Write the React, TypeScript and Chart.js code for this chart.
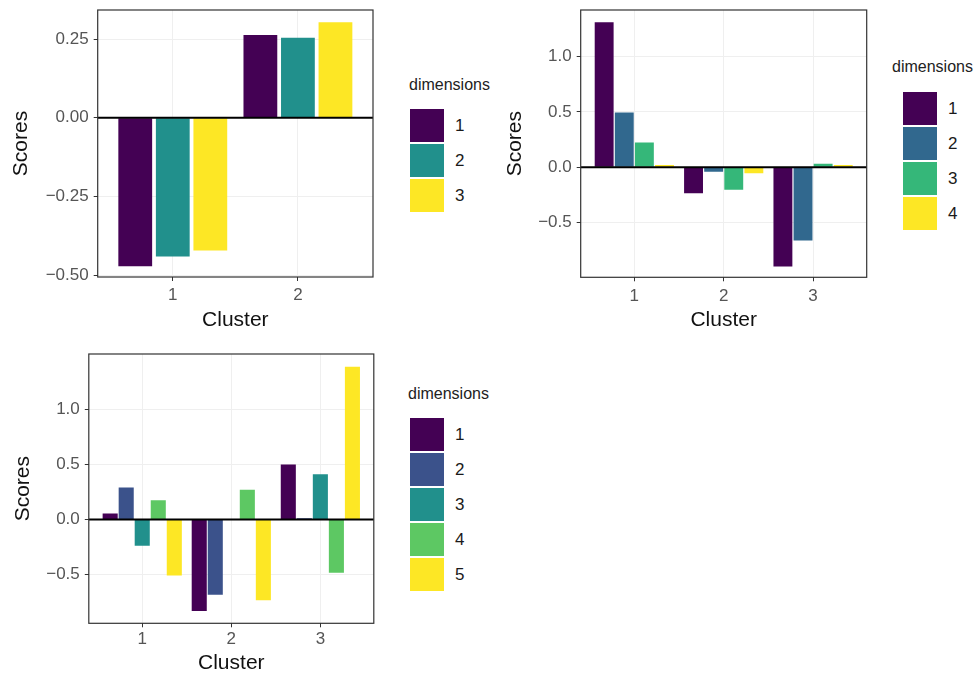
import React, { useEffect, useRef } from "react";
import { Chart, registerables } from "chart.js";

Chart.register(...registerables);

// ---------- DATA ----------
const clustersA = ["1", "2"];
const dimsA = ["1", "2", "3"];
const a_dim1 = [-0.471, 0.263];
const a_dim2 = [-0.44, 0.254];
const a_dim3 = [-0.421, 0.303];
const ticksA = [-0.5, -0.25, 0, 0.25];

const clustersB = ["1", "2", "3"];
const dimsB = ["1", "2", "3", "4"];
const b_dim1 = [1.31, -0.235, -0.898];
const b_dim2 = [0.493, -0.042, -0.663];
const b_dim3 = [0.222, -0.205, 0.03];
const b_dim4 = [0.02, -0.055, 0.02];
const ticksB = [-0.5, 0, 0.5, 1.0];

const clustersC = ["1", "2", "3"];
const dimsC = ["1", "2", "3", "4", "5"];
const c_dim1 = [0.055, -0.834, 0.5];
const c_dim2 = [0.29, -0.685, 0.01];
const c_dim3 = [-0.24, 0.005, 0.41];
const c_dim4 = [0.175, 0.27, -0.485];
const c_dim5 = [-0.51, -0.735, 1.39];
const ticksC = [-0.5, 0, 0.5, 1.0];

const viridis3 = ["#440154", "#21908C", "#FDE725"];
const viridis4 = ["#440154", "#31688E", "#35B779", "#FDE725"];
const viridis5 = ["#440154", "#3B528B", "#21908C", "#5DC863", "#FDE725"];

const FONT = "'Liberation Sans', Arial, Helvetica, sans-serif";

const fmt2 = (v: number) => (v < 0 ? "\u2212" : "") + Math.abs(v).toFixed(2);
const fmt1 = (v: number) => (v < 0 ? "\u2212" : "") + Math.abs(v).toFixed(1);

const panelPlugin = {
  id: "panelBox",
  afterDatasetsDraw(chart: any) {
    const { ctx, chartArea: a, scales } = chart;
    const y0 = scales.y.getPixelForValue(0);
    ctx.save();
    ctx.strokeStyle = "#000";
    ctx.lineWidth = 2;
    ctx.beginPath();
    ctx.moveTo(a.left, y0);
    ctx.lineTo(a.right, y0);
    ctx.stroke();
    ctx.strokeStyle = "#333";
    ctx.lineWidth = 1.2;
    ctx.strokeRect(a.left, a.top, a.right - a.left, a.bottom - a.top);
    ctx.restore();
  },
};

type Spec = {
  labels: string[];
  series: number[][];
  dims: string[];
  colors: string[];
  yMin: number;
  yMax: number;
  yTicks: number[];
  fmt: (v: number) => string;
  barPct: number;
  areaL: number;
  areaT: number;
  areaR: number;
  areaB: number;
  titleX: number;
  clusterY: number;
  tickY: number;
  canvasTop: number;
  canvasH: number;
};

function Panel({ s }: { s: Spec }) {
  const ref = useRef<HTMLCanvasElement | null>(null);
  const canvasLeft = s.titleX - 20;
  const canvasW = Math.round(s.areaR - canvasLeft + 6);
  const padRight = canvasLeft + canvasW - s.areaR;
  useEffect(() => {
    const chart = new Chart(ref.current as HTMLCanvasElement, {
      type: "bar",
      data: {
        labels: s.labels,
        datasets: s.series.map((d, i) => ({
          label: s.dims[i],
          data: d,
          backgroundColor: s.colors[i],
          borderWidth: 0,
          barPercentage: s.barPct,
          categoryPercentage: 0.9,
        })),
      },
      options: {
        responsive: false,
        animation: false,
        layout: {
          padding: { left: 0, top: s.areaT - s.canvasTop, right: padRight, bottom: 0 },
        },
        plugins: { legend: { display: false }, tooltip: { enabled: false } },
        scales: {
          x: {
            type: "category",
            offset: true,
            afterBuildTicks: (sc: any) => {
              sc._startValue = -0.6;
              sc._valueRange = s.labels.length - 1 + 1.2;
            },
            afterFit: (sc: any) => {
              sc.height = s.canvasTop + s.canvasH - s.areaB;
              sc.paddingLeft = 0;
              sc.paddingRight = 0;
            },
            grid: {
              offset: false,
              color: "#EFEFEF",
              lineWidth: 1,
              tickColor: "#333",
              tickLength: 4,
              drawTicks: true,
            },
            border: { display: false },
            ticks: {
              color: "#555",
              font: { family: FONT, size: 17 },
              padding: s.tickY - s.areaB - 4 - 10.2,
              maxRotation: 0,
            },
            title: {
              display: true,
              text: "Cluster",
              color: "#111",
              font: { family: FONT, size: 21 },
              padding: { top: 0, bottom: Math.max(0, s.canvasTop + s.canvasH - s.clusterY - 12.6) },
            },
          },
          y: {
            type: "linear",
            min: s.yMin,
            max: s.yMax,
            afterBuildTicks: (sc: any) => {
              sc.ticks = s.yTicks.map((v) => ({ value: v }));
            },
            afterFit: (sc: any) => {
              sc.width = s.areaL - canvasLeft;
              sc.paddingTop = 0;
              sc.paddingBottom = 0;
            },
            grid: {
              color: "#EFEFEF",
              lineWidth: 1,
              tickColor: "#333",
              tickLength: 4,
            },
            border: { display: false },
            ticks: {
              color: "#555",
              font: { family: FONT, size: 17 },
              padding: 5,
              callback: (v: any) => s.fmt(Number(v)),
            },
            title: {
              display: true,
              text: "Scores",
              color: "#111",
              font: { family: FONT, size: 21 },
              padding: { top: 7.4, bottom: 0 },
            },
          },
        },
      },
      plugins: [panelPlugin],
    } as any);
    return () => chart.destroy();
  }, []);
  return (
    <canvas
      ref={ref}
      width={canvasW}
      height={s.canvasH}
      style={{ position: "absolute", left: canvasLeft, top: s.canvasTop, width: canvasW, height: s.canvasH }}
    />
  );
}

function Legend({ x, titleY, keyX, keyY, labelX, dims, colors }: any) {
  return (
    <>
      <div
        style={{
          position: "absolute",
          left: x,
          top: titleY - 10,
          height: 20,
          lineHeight: "20px",
          fontFamily: FONT,
          fontSize: 16,
          color: "#222",
          whiteSpace: "nowrap",
        }}
      >
        dimensions
      </div>
      {dims.map((d: string, i: number) => (
        <React.Fragment key={d}>
          <div
            style={{
              position: "absolute",
              left: keyX,
              top: keyY + i * 35,
              width: 34,
              height: 33,
              background: colors[i],
            }}
          />
          <div
            style={{
              position: "absolute",
              left: labelX,
              top: keyY + i * 35 + 16.5 - 11,
              height: 22,
              lineHeight: "22px",
              fontFamily: FONT,
              fontSize: 17,
              color: "#1a1a1a",
            }}
          >
            {d}
          </div>
        </React.Fragment>
      ))}
    </>
  );
}

const specA: Spec = {
  labels: clustersA,
  series: [a_dim1, a_dim2, a_dim3],
  dims: dimsA,
  colors: viridis3,
  yMin: -0.505,
  yMax: 0.342,
  yTicks: ticksA,
  fmt: fmt2,
  barPct: 0.9,
  areaL: 97.7,
  areaT: 10,
  areaR: 373,
  areaB: 277,
  titleX: 21,
  clusterY: 320,
  tickY: 295.5,
  canvasTop: 0,
  canvasH: 340,
};

const specB: Spec = {
  labels: clustersB,
  series: [b_dim1, b_dim2, b_dim3, b_dim4],
  dims: dimsB,
  colors: viridis4,
  yMin: -0.995,
  yMax: 1.42,
  yTicks: ticksB,
  fmt: fmt1,
  barPct: 0.94,
  areaL: 580.7,
  areaT: 10,
  areaR: 866.7,
  areaB: 277.3,
  titleX: 515,
  clusterY: 320,
  tickY: 296,
  canvasTop: 0,
  canvasH: 340,
};

const specC: Spec = {
  labels: clustersC,
  series: [c_dim1, c_dim2, c_dim3, c_dim4, c_dim5],
  dims: dimsC,
  colors: viridis5,
  yMin: -0.945,
  yMax: 1.505,
  yTicks: ticksC,
  fmt: fmt1,
  barPct: 0.94,
  areaL: 88.3,
  areaT: 354,
  areaR: 373.3,
  areaB: 623.3,
  titleX: 22.5,
  clusterY: 663.5,
  tickY: 639,
  canvasTop: 340,
  canvasH: 336,
};

export default function App() {
  return (
    <div style={{ position: "absolute", left: 0, top: 0, width: 976, height: 676, background: "#fff", overflow: "hidden" }}>
      <Panel s={specA} />
      <Panel s={specB} />
      <Panel s={specC} />
      <Legend x={409} titleY={85} keyX={410} keyY={109} labelX={455} dims={dimsA} colors={viridis3} />
      <Legend x={892} titleY={67} keyX={903} keyY={92} labelX={948} dims={dimsB} colors={viridis4} />
      <Legend x={408} titleY={394} keyX={410} keyY={418} labelX={455} dims={dimsC} colors={viridis5} />
    </div>
  );
}
